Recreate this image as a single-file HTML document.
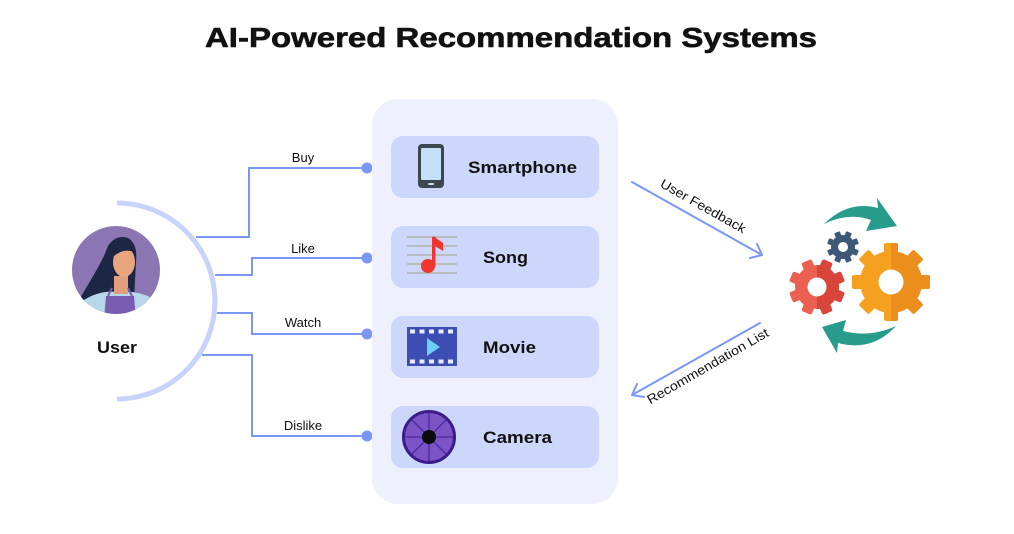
<!DOCTYPE html>
<html>
<head>
<meta charset="utf-8">
<style>
  html,body{margin:0;padding:0;background:#ffffff;}
  svg{display:block;}
  text{font-family:"Liberation Sans",Arial,sans-serif;fill:#111;}
</style>
</head>
<body>
<svg width="1014" height="534" viewBox="0 0 1014 534" xmlns="http://www.w3.org/2000/svg">
  <defs>
    <clipPath id="av"><circle cx="116" cy="270" r="44"/></clipPath>
    <clipPath id="orR"><rect x="891" y="230" width="50" height="110"/></clipPath>
    <clipPath id="rdR"><rect x="817" y="250" width="40" height="80"/></clipPath>
  </defs>

  <!-- Title -->
  <text x="511" y="47" font-size="28" font-weight="bold" text-anchor="middle" textLength="612" lengthAdjust="spacingAndGlyphs" stroke="#111" stroke-width="0.6">AI-Powered Recommendation Systems</text>

  <!-- Avatar -->
  <g clip-path="url(#av)">
    <rect x="70" y="224" width="92" height="92" fill="#8b76b3"/>
    <!-- hair -->
    <path d="M108 246 Q116 234 128 238 Q138 244 136 262 L134 300 L84 300 L80 298 Q96 272 104 256 Z" fill="#1d2644"/>
    <!-- shirt -->
    <path d="M78 320 L84 300 Q100 290 118 292 Q136 290 152 298 L160 320 Z" fill="#b7d8ea"/>
    <!-- neck -->
    <rect x="114" y="276" width="14" height="18" fill="#e1a07b"/>
    <!-- face -->
    <ellipse cx="124" cy="262" rx="11" ry="15" fill="#e8a67f"/>
    <path d="M112 250 Q120 240 134 246 L134 252 Q124 248 114 256 Z" fill="#1d2644"/>
    <!-- top -->
    <path d="M106 296 L134 296 L136 320 L104 320 Z" fill="#7a5db0"/>
    <line x1="108" y1="296" x2="112" y2="288" stroke="#7a5db0" stroke-width="2"/>
    <line x1="132" y1="296" x2="128" y2="288" stroke="#7a5db0" stroke-width="2"/>
  </g>
  <!-- User arc -->
  <path d="M117 203 A98 98 0 0 1 117 399" fill="none" stroke="#c8d3fb" stroke-width="5"/>
  <text x="117" y="353" font-size="17" font-weight="bold" text-anchor="middle" textLength="40" lengthAdjust="spacingAndGlyphs">User</text>

  <!-- Connectors -->
  <g fill="none" stroke="#7b97f6" stroke-width="2">
    <polyline points="196,237 249,237 249,168 367,168"/>
    <polyline points="215,275 252,275 252,258 367,258"/>
    <polyline points="217,313 252,313 252,334 367,334"/>
    <polyline points="202,355 252,355 252,436 367,436"/>
  </g>
  <g fill="#7b97f6">
    <circle cx="367" cy="168" r="5.5"/>
    <circle cx="367" cy="258" r="5.5"/>
    <circle cx="367" cy="334" r="5.5"/>
    <circle cx="367" cy="436" r="5.5"/>
  </g>
  <g font-size="13" text-anchor="middle">
    <text x="303" y="162">Buy</text>
    <text x="303" y="253">Like</text>
    <text x="303" y="327">Watch</text>
    <text x="303" y="430">Dislike</text>
  </g>

  <!-- Panel -->
  <rect x="372" y="99" width="246" height="405" rx="26" fill="#eef1fd"/>
  <g fill="#cdd7fb">
    <rect x="391" y="136" width="208" height="62" rx="12"/>
    <rect x="391" y="226" width="208" height="62" rx="12"/>
    <rect x="391" y="316" width="208" height="62" rx="12"/>
    <rect x="391" y="406" width="208" height="62" rx="12"/>
  </g>

  <!-- Smartphone icon -->
  <rect x="418" y="144" width="26" height="44" rx="4" fill="#3b4651"/>
  <rect x="421" y="148" width="20" height="32" rx="1" fill="#c2e1f7"/>
  <rect x="428" y="183" width="6" height="2" rx="1" fill="#c2e1f7"/>
  <text x="468" y="173" font-size="17" font-weight="bold" textLength="109" lengthAdjust="spacingAndGlyphs">Smartphone</text>

  <!-- Song icon -->
  <g stroke="#b8bbc0" stroke-width="2">
    <line x1="407" y1="237" x2="457" y2="237"/>
    <line x1="407" y1="246" x2="457" y2="246"/>
    <line x1="407" y1="255" x2="457" y2="255"/>
    <line x1="407" y1="264" x2="457" y2="264"/>
    <line x1="407" y1="273" x2="457" y2="273"/>
  </g>
  <circle cx="428" cy="266" r="7" fill="#f0352f"/>
  <rect x="432" y="237" width="3.5" height="30" fill="#f0352f"/>
  <path d="M433 236 L443 243 L443 251 L435 246 Z" fill="#f0352f"/>
  <text x="483" y="263" font-size="17" font-weight="bold" textLength="45" lengthAdjust="spacingAndGlyphs">Song</text>

  <!-- Movie icon -->
  <rect x="407" y="327" width="50" height="39" fill="#3c4db4"/>
  <g fill="#e9ecfb">
    <rect x="410" y="329.5" width="5" height="4"/>
    <rect x="419.5" y="329.5" width="5" height="4"/>
    <rect x="429" y="329.5" width="5" height="4"/>
    <rect x="438.5" y="329.5" width="5" height="4"/>
    <rect x="448" y="329.5" width="5" height="4"/>
    <rect x="410" y="359.5" width="5" height="4"/>
    <rect x="419.5" y="359.5" width="5" height="4"/>
    <rect x="429" y="359.5" width="5" height="4"/>
    <rect x="438.5" y="359.5" width="5" height="4"/>
    <rect x="448" y="359.5" width="5" height="4"/>
  </g>
  <path d="M427 338 L427 356 L440 347 Z" fill="#6bd0f6"/>
  <text x="483" y="353" font-size="17" font-weight="bold" textLength="53" lengthAdjust="spacingAndGlyphs">Movie</text>

  <!-- Camera icon -->
  <circle cx="429" cy="437" r="25.5" fill="#7b53c4" stroke="#3a1b8a" stroke-width="3"/>
  <g stroke="#4b2a9e" stroke-width="1.3" fill="none">
    <line x1="429" y1="437" x2="429" y2="413"/>
    <line x1="429" y1="437" x2="446" y2="420"/>
    <line x1="429" y1="437" x2="453" y2="437"/>
    <line x1="429" y1="437" x2="446" y2="454"/>
    <line x1="429" y1="437" x2="429" y2="461"/>
    <line x1="429" y1="437" x2="412" y2="454"/>
    <line x1="429" y1="437" x2="405" y2="437"/>
    <line x1="429" y1="437" x2="412" y2="420"/>
  </g>
  <circle cx="429" cy="437" r="7" fill="#0a0a0a"/>
  <text x="483" y="443" font-size="17" font-weight="bold" textLength="69" lengthAdjust="spacingAndGlyphs">Camera</text>

  <!-- Feedback arrows -->
  <g fill="none" stroke="#7b97f6" stroke-width="2" stroke-linecap="round" stroke-linejoin="round">
    <line x1="632" y1="182" x2="762" y2="255"/>
    <polyline points="750,258 762,255 757,244"/>
    <line x1="760" y1="323" x2="632" y2="395"/>
    <polyline points="637,384 632,395 644,397"/>
  </g>
  <text x="701" y="210" font-size="13" text-anchor="middle" transform="rotate(29.5 701 210)" textLength="96" lengthAdjust="spacingAndGlyphs">User Feedback</text>
  <text x="710" y="370" font-size="13" text-anchor="middle" transform="rotate(-30 710 370)" textLength="138" lengthAdjust="spacingAndGlyphs">Recommendation List</text>

  <!-- Gears -->
  <!-- orange -->
  <g fill="#f5a11f">
    <circle cx="891" cy="282" r="31"/>
    <rect x="884" y="243" width="14" height="78" rx="2"/>
    <rect x="884" y="243" width="14" height="78" rx="2" transform="rotate(45 891 282)"/>
    <rect x="884" y="243" width="14" height="78" rx="2" transform="rotate(90 891 282)"/>
    <rect x="884" y="243" width="14" height="78" rx="2" transform="rotate(135 891 282)"/>
  </g>
  <g fill="#ec8e1b" clip-path="url(#orR)">
    <circle cx="891" cy="282" r="31"/>
    <rect x="884" y="243" width="14" height="78" rx="2"/>
    <rect x="884" y="243" width="14" height="78" rx="2" transform="rotate(45 891 282)"/>
    <rect x="884" y="243" width="14" height="78" rx="2" transform="rotate(90 891 282)"/>
    <rect x="884" y="243" width="14" height="78" rx="2" transform="rotate(135 891 282)"/>
  </g>
  <circle cx="891" cy="282" r="12.5" fill="#fff"/>
  <!-- red -->
  <g fill="#eb6050">
    <circle cx="817" cy="287" r="22"/>
    <rect x="811.5" y="259" width="11" height="56" rx="2" transform="rotate(22.5 817 287)"/>
    <rect x="811.5" y="259" width="11" height="56" rx="2" transform="rotate(67.5 817 287)"/>
    <rect x="811.5" y="259" width="11" height="56" rx="2" transform="rotate(112.5 817 287)"/>
    <rect x="811.5" y="259" width="11" height="56" rx="2" transform="rotate(157.5 817 287)"/>
  </g>
  <g fill="#d9453a" clip-path="url(#rdR)">
    <circle cx="817" cy="287" r="22"/>
    <rect x="811.5" y="259" width="11" height="56" rx="2" transform="rotate(22.5 817 287)"/>
    <rect x="811.5" y="259" width="11" height="56" rx="2" transform="rotate(67.5 817 287)"/>
    <rect x="811.5" y="259" width="11" height="56" rx="2" transform="rotate(112.5 817 287)"/>
    <rect x="811.5" y="259" width="11" height="56" rx="2" transform="rotate(157.5 817 287)"/>
  </g>
  <circle cx="817" cy="287" r="9.5" fill="#fff"/>
  <!-- small blue -->
  <g fill="#3e5878">
    <circle cx="843" cy="247" r="12"/>
    <rect x="840" y="231" width="6" height="32" rx="1" transform="rotate(22.5 843 247)"/>
    <rect x="840" y="231" width="6" height="32" rx="1" transform="rotate(67.5 843 247)"/>
    <rect x="840" y="231" width="6" height="32" rx="1" transform="rotate(112.5 843 247)"/>
    <rect x="840" y="231" width="6" height="32" rx="1" transform="rotate(157.5 843 247)"/>
  </g>
  <circle cx="843" cy="247" r="5" fill="#fff"/>

  <!-- teal cycle arrows -->
  <path d="M824 224 Q848 200 878 208 L877 198 L897 226 L866 231 L871 220 Q848 212 824 224 Z" fill="#279b8c"/>
  <path d="M896 326 Q872 352 838 343 L837 353 L822 327 L846 320 L843 331 Q870 338 896 326 Z" fill="#279b8c"/>
</svg>
</body>
</html>
